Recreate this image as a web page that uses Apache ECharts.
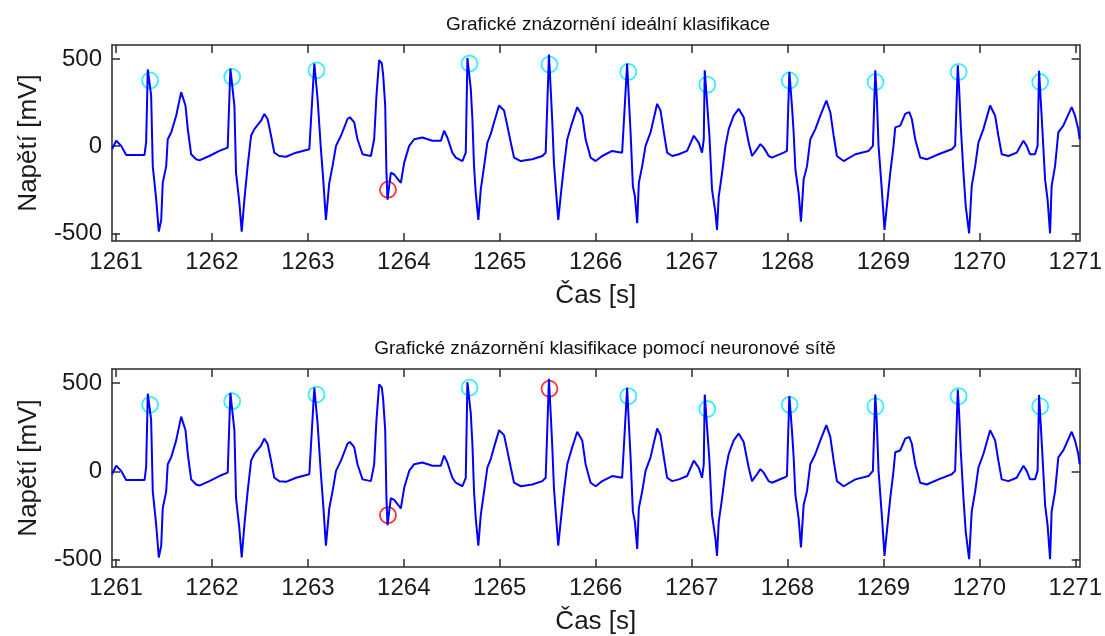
<!DOCTYPE html>
<html>
<head>
<meta charset="utf-8">
<script src="https://cdn.jsdelivr.net/npm/echarts@6/dist/echarts.min.js"></script>
<style>
  html, body { margin: 0; padding: 0; background: #fff; }
  #chart { width: 1105px; height: 636px; }
</style>
</head>
<body>
<div id="chart"></div>
<script>
// ECG trace: time [s] and voltage [mV]
const sigT = [
  1260.958, 1261.002, 1261.054, 1261.106, 1261.297, 1261.314, 1261.331, 1261.366, 1261.383, 1261.419,
  1261.446, 1261.471, 1261.487, 1261.523, 1261.539, 1261.575, 1261.627, 1261.679, 1261.724, 1261.748,
  1261.783, 1261.835, 1261.869, 1261.973, 1262.077, 1262.164,
  1262.192, 1262.234, 1262.251, 1262.286, 1262.310, 1262.338, 1262.372, 1262.408, 1262.442, 1262.512,
  1262.546, 1262.580, 1262.616, 1262.650, 1262.702, 1262.772, 1262.876, 1263.015,
  1263.067, 1263.101, 1263.136, 1263.160, 1263.188, 1263.223, 1263.257, 1263.293, 1263.345, 1263.413,
  1263.438, 1263.483, 1263.517, 1263.570, 1263.657,
  1263.691, 1263.715, 1263.743, 1263.771, 1263.785, 1263.806, 1263.819, 1263.830, 1263.865, 1263.900,
  1263.969, 1264.004, 1264.056, 1264.108, 1264.194, 1264.298, 1264.386, 1264.420, 1264.454, 1264.506,
  1264.542, 1264.611, 1264.646,
  1264.663, 1264.698, 1264.715, 1264.732, 1264.750, 1264.777, 1264.802, 1264.837, 1264.871, 1264.906,
  1264.941, 1264.993, 1265.045, 1265.079, 1265.115, 1265.149, 1265.219, 1265.339, 1265.444, 1265.479,
  1265.513, 1265.531, 1265.548, 1265.565, 1265.583, 1265.610, 1265.635, 1265.669, 1265.704, 1265.756,
  1265.808, 1265.860, 1265.895, 1265.947, 1266.000, 1266.068, 1266.172, 1266.276,
  1266.328, 1266.346, 1266.364, 1266.388, 1266.409, 1266.433, 1266.450, 1266.485, 1266.520, 1266.572,
  1266.641, 1266.676, 1266.711, 1266.745, 1266.797, 1266.867, 1266.953, 1267.023, 1267.074, 1267.109,
  1267.127,
  1267.137, 1267.161, 1267.186, 1267.213, 1267.249, 1267.265, 1267.283, 1267.318, 1267.353, 1267.387,
  1267.439, 1267.491, 1267.543, 1267.595, 1267.630, 1267.682, 1267.717, 1267.752, 1267.804, 1267.838,
  1267.960, 1267.994,
  1268.019, 1268.046, 1268.064, 1268.082, 1268.116, 1268.140, 1268.168, 1268.203, 1268.238, 1268.290,
  1268.342, 1268.405, 1268.446, 1268.481, 1268.515, 1268.585, 1268.707, 1268.845, 1268.890,
  1268.915, 1268.931, 1268.949, 1268.983, 1269.011, 1269.035, 1269.071, 1269.105, 1269.123, 1269.175,
  1269.227, 1269.269, 1269.296, 1269.331, 1269.383, 1269.452, 1269.574, 1269.712, 1269.747,
  1269.775, 1269.789, 1269.806, 1269.834, 1269.858, 1269.893, 1269.920, 1269.956, 1269.990, 1270.042,
  1270.112, 1270.164, 1270.198, 1270.233, 1270.302, 1270.389, 1270.459, 1270.493, 1270.528, 1270.580,
  1270.607,
  1270.622, 1270.649, 1270.685, 1270.711, 1270.737, 1270.753, 1270.789, 1270.823, 1270.875, 1270.962,
  1270.997, 1271.031, 1271.045
];
const sigV = [
  -17, 31, 2, -50, -50, 23, 440, 291, -114, -306,
  -489, -422, -210, -114, 40, 79, 175, 310, 233, 98,
  -46, -75, -81, -56, -27, -8,
  445, 233, -152, -325, -489, -306, -114, 60, 98, 146,
  185, 156, 60, -37, -56, -60, -37, -17,
  474, 272, -17, -191, -422, -210, -114, 2, 60, 156,
  166, 137, 40, -46, -56,
  40, 291, 493, 474, 406, 233, -152, -306, -152, -162,
  -210, -94, 2, 40, 50, 31, 31, 89, 50, -37,
  -65, -85, -37,
  505, 329, 156, -114, -268, -422, -249, -114, 21, 69,
  137, 233, 205, 117, 21, -65, -85, -75, -56, -37,
  525, 329, 137, -94, -229, -422, -287, -114, 40, 137,
  224, 175, 40, -65, -85, -56, -27, -37,
  474, 272, 79, -229, -287, -441, -210, -114, 2, 79,
  243, 204, 79, -37, -56, -46, -27, 60, 21, -37,
  40,
  435, 252, 60, -249, -383, -480, -287, -152, 2, 98,
  175, 214, 166, 21, -56, -17, 12, -8, -56, -65,
  -37, -27,
  426, 233, 79, -133, -268, -432, -191, -114, 40, 98,
  175, 262, 195, 60, -56, -85, -46, -27, 2,
  435, 272, 2, -249, -480, -345, -152, 2, 108, 118,
  185, 195, 156, 40, -65, -75, -46, -17, 2,
  464, 329, 117, -152, -345, -499, -229, -114, 21, 98,
  233, 175, 60, -46, -56, -37, 31, 2, -46, -46,
  2,
  433, 175, -191, -306, -499, -229, -114, 79, 118, 224,
  175, 98, 40
];

// Annotated beats: position, value and class (N = normal, V = ectopic)
const beatT = [1261.355, 1262.211, 1263.090, 1263.835, 1264.685, 1265.518, 1266.340, 1267.164, 1268.022, 1268.917, 1269.784, 1270.634];
const beatV = [377, 397, 435, -249, 474, 468, 426, 353, 377, 368, 426, 368];
const idealClass = ['N', 'N', 'N', 'V', 'N', 'N', 'N', 'N', 'N', 'N', 'N', 'N'];
const netClass   = ['N', 'N', 'N', 'V', 'N', 'V', 'N', 'N', 'N', 'N', 'N', 'N'];

const xTicks = [1261, 1262, 1263, 1264, 1265, 1266, 1267, 1268, 1269, 1270, 1271];
const yTicks = [-500, 0, 500];

const titles = ['Grafické znázornění ideální klasifikace', 'Grafické znázornění klasifikace pomocí neuronové sítě'];
const xName = 'Čas [s]';
const yName = 'Napětí [mV]';

const X_MIN = 1260.958, X_MAX = 1271.045;
const Y_MIN = -543, Y_MAX = 580;

const classColor = { N: '#00eaff', V: '#ff0000' };
const FONT = 'Liberation Sans, Arial, sans-serif';
const AX = '#2b2b2b';

const signal = sigT.map((t, i) => [t, sigV[i]]);
function marks(cls) {
  return beatT.map((t, i) => ({
    value: [t, beatV[i]],
    itemStyle: { color: 'rgba(0,0,0,0)', borderColor: classColor[cls[i]], borderWidth: 1.8 }
  }));
}

const grids = [
  { left: 112, top: 45, width: 969, height: 196 },
  { left: 112, top: 369, width: 969, height: 198 }
];

const xAxes = [], yAxes = [];
grids.forEach((g, gi) => {
  const lineStyle = { color: AX, width: 1.5 };
  xAxes.push({
    type: 'value', gridIndex: gi, min: X_MIN, max: X_MAX, position: 'bottom',
    name: xName, nameLocation: 'middle', nameGap: 42,
    nameTextStyle: { fontFamily: FONT, fontSize: 26, color: '#1a1a1a' },
    axisLine: { show: true, onZero: false, lineStyle },
    axisTick: { show: true, inside: true, length: 8, lineStyle, customValues: xTicks },
    axisLabel: { show: true, margin: 9, fontFamily: FONT, fontSize: 24, color: '#1a1a1a',
      customValues: xTicks, formatter: v => String(Math.round(v)) },
    splitLine: { show: false }
  });
  xAxes.push({
    type: 'value', gridIndex: gi, min: X_MIN, max: X_MAX, position: 'top',
    axisLine: { show: true, onZero: false, lineStyle },
    axisTick: { show: true, inside: true, length: 8, lineStyle, customValues: xTicks },
    axisLabel: { show: false }, splitLine: { show: false }
  });
  yAxes.push({
    type: 'value', gridIndex: gi, min: Y_MIN, max: Y_MAX, position: 'left',
    name: yName, nameLocation: 'middle', nameGap: 70, nameRotate: 90,
    nameTextStyle: { fontFamily: FONT, fontSize: 26, color: '#1a1a1a' },
    axisLine: { show: true, onZero: false, lineStyle },
    axisTick: { show: true, inside: true, length: 8, lineStyle, customValues: yTicks },
    axisLabel: { show: true, margin: 10, fontFamily: FONT, fontSize: 24, color: '#1a1a1a', customValues: yTicks },
    splitLine: { show: false }
  });
  yAxes.push({
    type: 'value', gridIndex: gi, min: Y_MIN, max: Y_MAX, position: 'right',
    axisLine: { show: true, onZero: false, lineStyle },
    axisTick: { show: true, inside: true, length: 8, lineStyle, customValues: yTicks },
    axisLabel: { show: false }, splitLine: { show: false }
  });
});

const chart = echarts.init(document.getElementById('chart'), null, { renderer: 'canvas' });
chart.setOption({
  animation: false,
  backgroundColor: '#ffffff',
  title: [
    { text: titles[0], left: 603, top: 10, textAlign: 'center',
      textStyle: { fontFamily: FONT, fontSize: 19, fontWeight: 'normal', color: '#111' } },
    { text: titles[1], left: 600, top: 334, textAlign: 'center',
      textStyle: { fontFamily: FONT, fontSize: 19, fontWeight: 'normal', color: '#111' } }
  ],
  grid: grids,
  xAxis: xAxes,
  yAxis: yAxes,
  series: [
    { type: 'line', xAxisIndex: 0, yAxisIndex: 0, data: signal, showSymbol: false,
      lineStyle: { color: '#0000ff', width: 2 }, clip: true },
    { type: 'scatter', xAxisIndex: 0, yAxisIndex: 0, data: marks(idealClass),
      symbol: 'circle', symbolSize: 16 },
    { type: 'line', xAxisIndex: 2, yAxisIndex: 2, data: signal, showSymbol: false,
      lineStyle: { color: '#0000ff', width: 2 }, clip: true },
    { type: 'scatter', xAxisIndex: 2, yAxisIndex: 2, data: marks(netClass),
      symbol: 'circle', symbolSize: 16 }
  ]
});
</script>
</body>
</html>
